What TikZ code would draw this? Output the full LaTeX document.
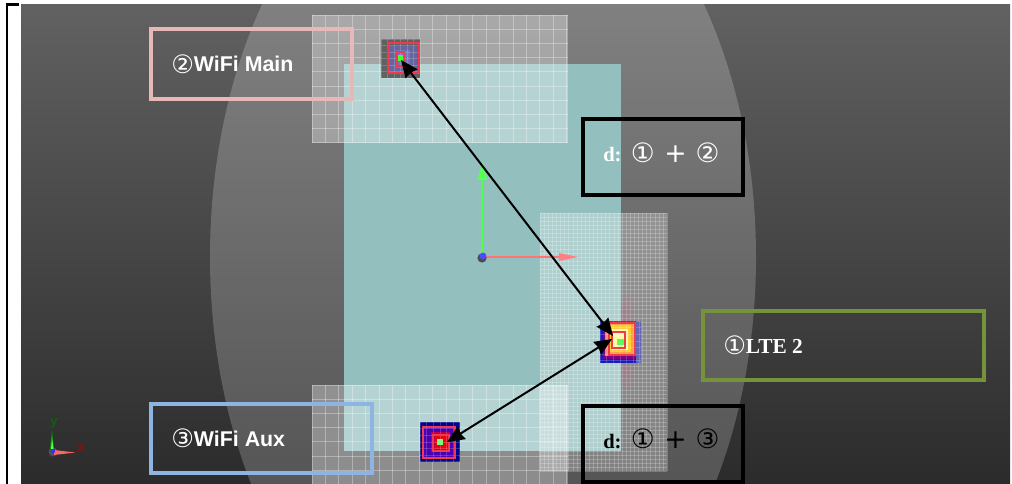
\documentclass[tikz,border=0pt]{standalone}
\usepackage{fontspec}
\setmainfont{Liberation Serif}
\newfontfamily\arialf{Liberation Sans}
\newfontfamily\djv{DejaVu Sans}
\usetikzlibrary{arrows.meta}
\definecolor{teal1}{HTML}{94BFBF}
\definecolor{pinkb}{HTML}{E6B8B7}
\definecolor{oliveb}{HTML}{76923C}
\definecolor{blueb}{HTML}{8EB4E3}
\definecolor{heatred}{HTML}{EE3A50}
\newcommand{\circd}[1]{\raisebox{-.7pt}{\djv\mdseries\fontsize{20}{20}\selectfont #1}}
\newcommand{\circl}[1]{\raisebox{-1.1pt}{\djv\mdseries\fontsize{19}{19}\selectfont #1}}
\newcommand{\dline}[1]{d:\hspace{7pt}\circd{①}\hspace{7.2pt}\circd{+}\hspace{6.8pt}\circd{#1}}
\tikzset{
  px/.style={x=0.75pt,y=-0.75pt},
  gridline/.style={draw=white,draw opacity=.32,line width=.7pt},
  fineline/.style={draw=white,draw opacity=.22,line width=.35pt},
  heatgrid/.style={draw=white,draw opacity=.18,line width=.4pt},
  heatline/.style={draw=heatred,line width=1.1pt},
  labelbox/.style={fill=none,line width=2.6pt},
  blackbox/.style={draw=black,fill=none,line width=3pt},
  sanslabel/.style={text=white,font=\arialf\bfseries\fontsize{16}{18}\selectfont,anchor=base west,inner sep=0pt},
  seriflabel/.style={text=white,font=\bfseries\fontsize{16}{18}\selectfont,anchor=base west,inner sep=0pt},
  dlabel/.style={font=\bfseries\fontsize{15.4}{18}\selectfont,anchor=base west,inner sep=0pt},
  distarrow/.style={black,line width=1.5pt,{Stealth[length=13pt,width=11pt,inset=1pt]}-{Stealth[length=13pt,width=11pt,inset=1pt]}},
}
\begin{document}
\begin{tikzpicture}[px]
\useasboundingbox (0,0) rectangle (1012,484);
% bracket
\draw[black,line width=1.9pt] (19,4.5) -- (7,4.5) -- (7,484);
\begin{scope}
\clip (21,5) rectangle (1010,484);
\shade[top color=black!62,bottom color=black!83] (21,5) rectangle (1010,484);
\fill[white,opacity=.2] (483,257) ellipse [x radius=273,y radius=430];
% board
\fill[teal1] (344,64) rectangle (621,451);
% top patch
\fill[white,opacity=.32] (312,15) rectangle (568,143);
\foreach \i in {0,...,19} \draw[gridline] ({312+13.4*\i},15) -- ({312+13.4*\i},143);
\foreach \i in {0,...,9} \draw[gridline] (312,{15+14.2*\i}) -- (568,{15+14.2*\i});
% bottom patch
\fill[white,opacity=.32] (312,385) rectangle (568,484);
\foreach \i in {0,...,19} \draw[gridline] ({312+13.4*\i},385) -- ({312+13.4*\i},484);
\foreach \i in {0,...,7} \draw[gridline] (312,{385+14.2*\i}) -- (568,{385+14.2*\i});
% right patch
\fill[white,opacity=.26] (540,213) rectangle (667,471);
\foreach \i in {0,...,31} \draw[fineline] ({540+4.1*\i},213) -- ({540+4.1*\i},471);
\foreach \i in {0,...,64} \draw[fineline] (540,{213+4.03*\i}) -- (667,{213+4.03*\i});
% glow near LTE edge
\fill[violet!50!red!60!white,opacity=.10] (621,296) rectangle (634,388);
\fill[violet!50!red!60!white,opacity=.12] (621,306) rectangle (628,378);
% axes
\draw[green!70!white,line width=1pt] (482,257) -- (482,178);
\fill[green!65!white] (482.5,162) -- (487.5,180) -- (477.5,180) -- cycle;
\draw[red!55!white,line width=1pt] (482,257) -- (562,257);
\fill[red!50!white] (578,257) -- (559,253) -- (559,261) -- cycle;
\fill[black!70] (482,258) circle [radius=4.6];
\fill[blue!70!white] (483,256) circle [radius=3.4];
% triad
\fill[black!60,opacity=.6] (53,452) circle [radius=4.5];
\fill[green!60!black] (50,449) -- (52,430) -- (54,449) -- cycle;
\fill[green!65!white] (51,449) -- (52,438) -- (53.5,449) -- cycle;
\fill[red!60!white] (54,450) -- (75,452.5) -- (54,455) -- cycle;
\fill[blue!80!white] (53,451) circle [radius=2.2];
\node[text=green!45!black,font=\arialf\fontsize{10}{10}\selectfont,inner sep=0pt] (yl) at (54,423) {y};
\node[text=red!70!black,font=\arialf\fontsize{10}{10}\selectfont,inner sep=0pt] (xl) at (81,448) {x};
% heat: WiFi Main
\fill[black!62] (381,39) rectangle (420,78);
\fill[blue!35!black!60!white] (388,46) rectangle (417,72);
\fill[blue!40!white!75!black] (396,50) rectangle (410,68);
\foreach \i in {0,...,6} {\draw[heatgrid] ({381+6.5*\i},39) -- ({381+6.5*\i},78); \draw[heatgrid] (381,{39+6.5*\i}) -- (420,{39+6.5*\i});}
\draw[heatline] (388,43) rectangle (419,73);
\draw[heatline] (397,52) rectangle (404.5,66);
\fill[green!75!white] (398,55) rectangle (403,61);
% heat: WiFi Aux
\fill[blue!55!black] (420,422) rectangle (460,462);
\fill[violet!60!blue] (424,427) rectangle (456,458);
\fill[red!50!violet] (431,432) rectangle (450,452);
\fill[red!85!violet] (435,436) rectangle (448,449);
\foreach \i in {0,...,6} {\draw[heatgrid] ({420+6.6*\i},422) -- ({420+6.6*\i},462); \draw[heatgrid] (420,{422+6.6*\i}) -- (460,{422+6.6*\i});}
\draw[heatline,line width=.9pt] (423,427) rectangle (455,458);
\draw[heatline,line width=.9pt] (433,435) rectangle (449,451);
\fill[green!55!white] (437,439) rectangle (443,444.5);
% heat: LTE
\fill[blue!70!black!90!white] (600,321) rectangle (641,363);
\fill[blue!30!black!40!white,opacity=.6] (636,321) rectangle (641,363);
\fill[violet!60!red!70!blue] (603,325) rectangle (636,359);
\fill[red!55!white] (605,322) rectangle (635,356);
\fill[orange!75!white] (607,322) rectangle (634,355);
\fill[yellow!55!orange!80!white] (610,325) rectangle (631,352);
\fill[yellow!35!white] (612,329) rectangle (628,350);
\foreach \i in {0,...,6} {\draw[heatgrid] ({600+6.6*\i},321) -- ({600+6.6*\i},363); \draw[heatgrid] (600,{321+6.6*\i}) -- (641,{321+6.6*\i});}
\draw[heatline] (609,323) rectangle (635,355);
\draw[heatline] (612,332) rectangle (625,348);
\fill[green!65!white] (617,339) rectangle (624,345);
\end{scope}
% label boxes
\draw[labelbox,draw=pinkb] (151,29) rectangle (352,99);
\draw[labelbox,draw=oliveb] (703,311) rectangle (984,380);
\draw[labelbox,draw=blueb] (151,404) rectangle (372,473);
\draw[blackbox] (583,119) rectangle (742.5,195.5);
\draw[blackbox] (583,406) rectangle (742.5,482);
% labels
\node[sanslabel] (lmain) at (171,72) {\circl{②}WiFi Main};
\node[sanslabel] (laux) at (171,446.5) {\circl{③}WiFi Aux};
\node[seriflabel] (llte) at (723,353) {\circl{①}LTE 2};
\node[dlabel,text=white] (d12) at (603,161.5) {\dline{②}};
\node[dlabel,text=black] (d13) at (603,448) {\dline{③}};
% connectors
\coordinate (main) at (401,60);
\coordinate (lteA) at (613,336);
\coordinate (lteB) at (612,339);
\coordinate (aux) at (447,442);
\draw[distarrow] (main) -- (lteA);
\draw[distarrow] (lteB) -- (aux);
\end{tikzpicture}
\end{document}
